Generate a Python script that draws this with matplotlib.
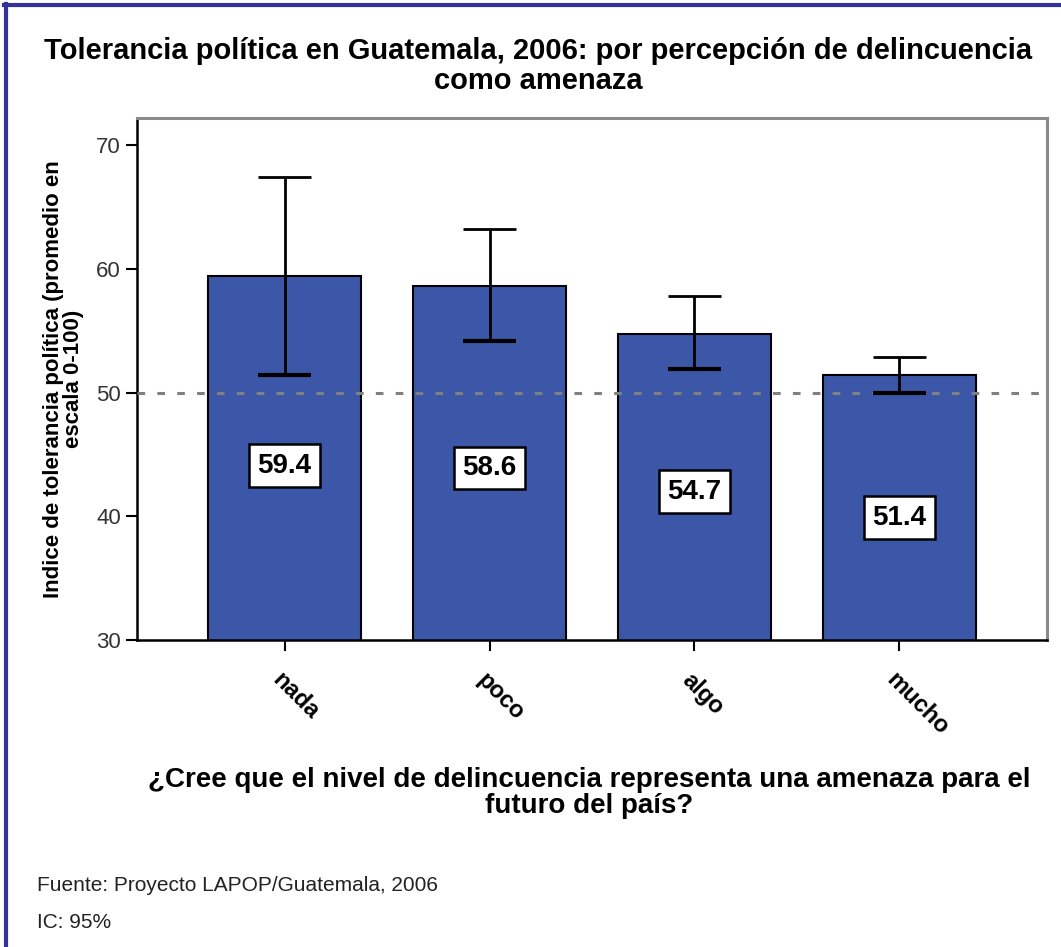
import matplotlib.pyplot as plt
import matplotlib.transforms as mtransforms
import numpy as np

# data
categorias = ['nada', 'poco', 'algo', 'mucho']
medias = [59.4, 58.6, 54.7, 51.4]
ic_sup = [67.4, 63.2, 57.8, 52.9]
ic_inf = [51.4, 54.2, 51.9, 49.95]
y_etiqueta = [44.1, 43.9, 42.0, 39.9]

plt.rcParams['font.family'] = ['Liberation Sans', 'DejaVu Sans']

fig = plt.figure(figsize=(10.61, 9.47), dpi=100)
ax = fig.add_axes([137/1061, 1 - 640/947, (1047-137)/1061, (640-118)/947])

x = np.arange(len(categorias))
ax.bar(x, medias, width=0.75, bottom=0, color='#3D57A8', edgecolor='black',
       linewidth=1.5, zorder=2)

ax.axhline(50, color='#808080', linestyle=(0, (2.5, 4)), linewidth=2.2, zorder=3)

# intervalos de confianza
ax.vlines(x, ic_inf, ic_sup, color='black', linewidth=2, zorder=4)
ax.hlines(ic_sup, x - 0.13, x + 0.13, color='black', linewidth=2, zorder=4)
ax.hlines(ic_inf, x - 0.13, x + 0.13, color='black', linewidth=3, zorder=4)

for xi, v, ye in zip(x, medias, y_etiqueta):
    ax.text(xi, ye, f'{v:.1f}', ha='center', va='center', fontsize=20,
            fontweight='bold', zorder=5,
            bbox=dict(boxstyle='square,pad=0.3', facecolor='white',
                      edgecolor='black', linewidth=1.8))

ax.set_xlim(-0.72, 3.72)
ax.set_ylim(30, 72.2)
ax.set_yticks([30, 40, 50, 60, 70])
ax.tick_params(axis='y', labelsize=16, labelcolor='#333333', length=8, width=1.5)
ax.set_xticks(x)
ax.set_xticklabels(categorias, rotation=-45, ha='left', va='center',
                   rotation_mode='anchor', fontsize=17, fontweight='bold')
ax.tick_params(axis='x', length=8, width=1.5, pad=14)
desplaza = mtransforms.ScaledTranslation(-9/100, -6/100, fig.dpi_scale_trans)
for lbl in ax.get_xticklabels():
    lbl.set_transform(lbl.get_transform() + desplaza)

for s in ['left', 'bottom']:
    ax.spines[s].set_color('black')
    ax.spines[s].set_linewidth(1.8)
for s in ['top', 'right']:
    ax.spines[s].set_color('#8a8a8a')
    ax.spines[s].set_linewidth(2.2)

ax.set_ylabel('Indice de tolerancia política (promedio en\nescala 0-100)',
              fontsize=16, fontweight='bold', linespacing=0.95, labelpad=9)

fig.text(538/1061, 1 - 66/947,
         'Tolerancia política en Guatemala, 2006: por percepción de delincuencia\ncomo amenaza',
         ha='center', va='center', fontsize=21, fontweight='bold', linespacing=1.05)

fig.text(589/1061, 1 - 793/947,
         '¿Cree que el nivel de delincuencia representa una amenaza para el\nfuturo del país?',
         ha='center', va='center', fontsize=20, fontweight='bold', linespacing=1.0)

fig.text(37/1061, 1 - 885/947, 'Fuente: Proyecto LAPOP/Guatemala, 2006',
         ha='left', va='center', fontsize=15, color='#222222')
fig.text(37/1061, 1 - 922/947, 'IC: 95%',
         ha='left', va='center', fontsize=15, color='#222222')

# marco azul
fig.add_artist(plt.Line2D([6/1061, 6/1061], [0, 1 - 4/947], transform=fig.transFigure,
                          color='#333399', linewidth=3))
fig.add_artist(plt.Line2D([4/1061, 1], [1 - 5/947, 1 - 5/947], transform=fig.transFigure,
                          color='#333399', linewidth=3))

fig.savefig('out.png', dpi=100)
